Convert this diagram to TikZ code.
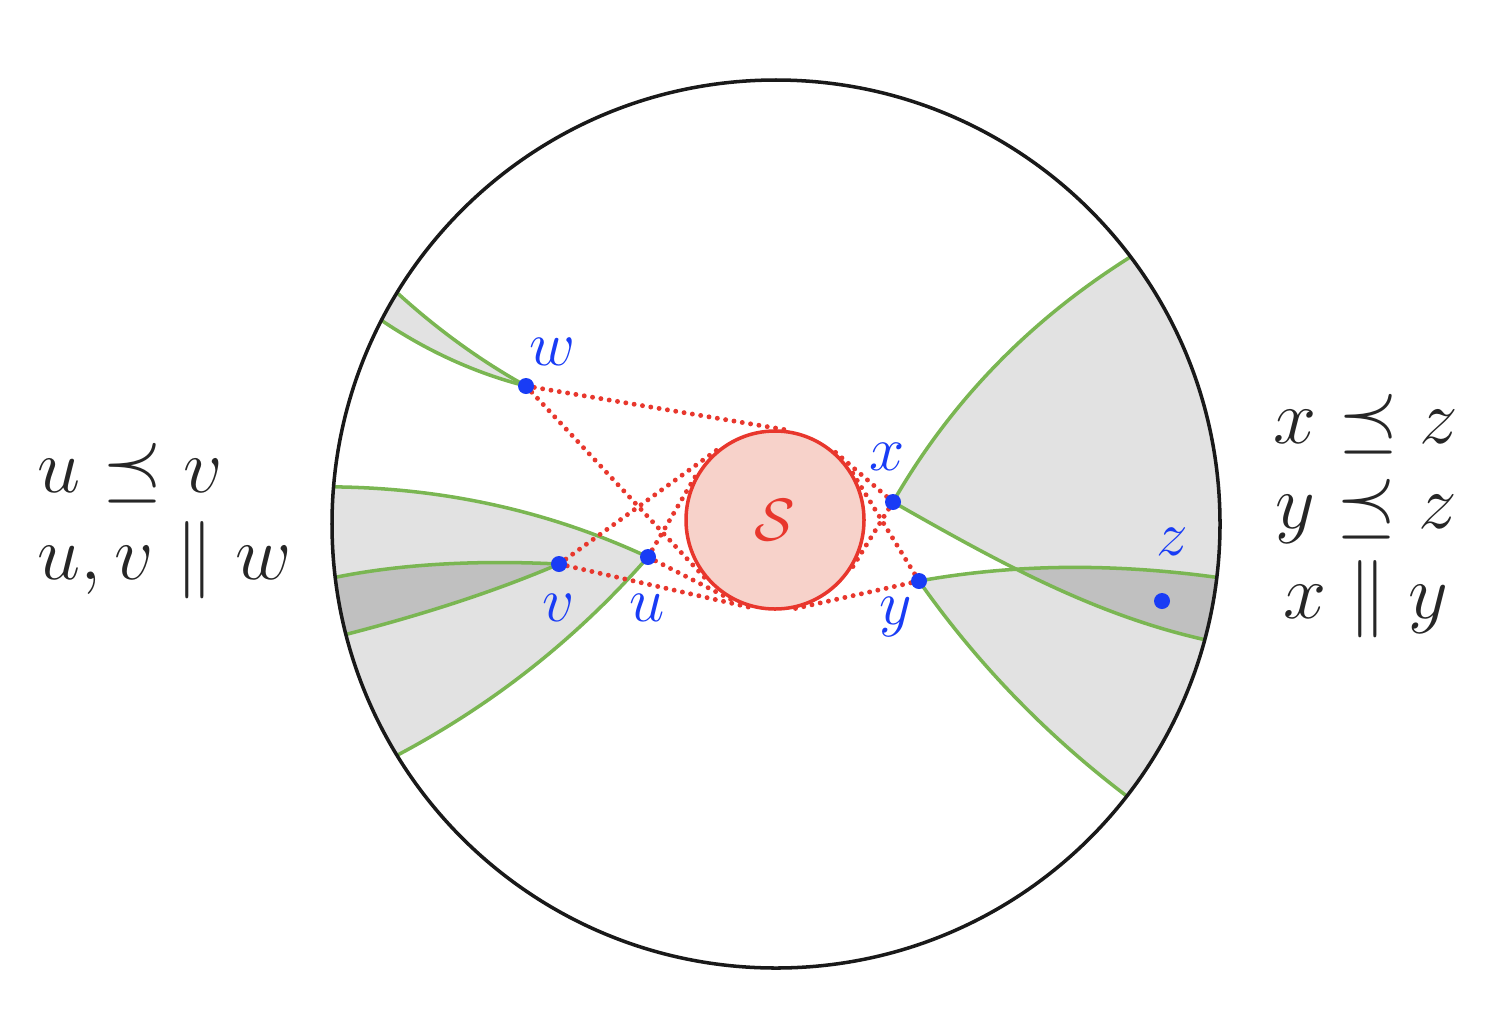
\RequirePackage{fix-cm}
\documentclass[tikz,border=0pt]{standalone}
\usepackage{amsmath,amssymb}
\usepackage{tikz}
\usetikzlibrary{calc}

\definecolor{ptblue}{RGB}{25,60,245}
\definecolor{sred}{RGB}{232,55,45}
\definecolor{spink}{RGB}{247,210,202}
\definecolor{geogreen}{RGB}{122,182,82}
\definecolor{lightcone}{RGB}{226,226,226}
\definecolor{darkcone}{RGB}{192,192,192}

\tikzset{
	rim/.style={line width=1pt, black!90},
	geo/.style={line width=1pt, geogreen},
	tanline/.style={sred, line width=1.4pt, line cap=round, dash pattern=on 0pt off 2.4pt},
	pt/.style={fill=ptblue},
	ptlabel/.style={text=ptblue, font=\fontsize{18}{20}\selectfont, inner sep=0pt},
	rel/.style={text=black!85, font=\fontsize{22}{25}\selectfont, inner sep=0pt}
}

\begin{document}
\begin{tikzpicture}
	\useasboundingbox (0,0) rectangle (14.96,10.32);
	\coordinate (O) at (7.76,5.08);
	% points
	\coordinate (w) at (5.26,6.46);
	\coordinate (u) at (6.48,4.75);
	\coordinate (v) at (5.59,4.68);
	\coordinate (x) at (8.93,5.30);
	\coordinate (y) at (9.19,4.51);
	\coordinate (z) at (11.62,4.31);
	% ends on the rim
	\coordinate (w1) at ($(O)+(148.6:4.44)$);
	\coordinate (w2) at ($(O)+(152.7:4.44)$);
	\coordinate (u1) at ($(O)+(175.2:4.44)$);
	\coordinate (u2) at ($(O)+(211.4:4.44)$);
	\coordinate (v1) at ($(O)+(186.9:4.44)$);
	\coordinate (v2) at ($(O)+(194.4:4.44)$);
	\coordinate (x1) at ($(O)+(37.0:4.44)$);
	\coordinate (x2) at ($(O)+(-15.1:4.44)$);
	\coordinate (y1) at ($(O)+(-6.9:4.44)$);
	\coordinate (y2) at ($(O)+(-37.8:4.44)$);

	% cones
	\fill[lightcone] (w) .. controls (4.81,6.71) and (4.38,7.02) .. (w1) arc[start angle=148.6,end angle=152.7,radius=4.44]
		.. controls (4.27,6.81) and (4.75,6.59) .. (w) -- cycle;
	\fill[lightcone] (u) .. controls (5.49,5.21) and (4.44,5.44) .. (u1) arc[start angle=175.2,end angle=211.4,radius=4.44]
		.. controls (4.94,3.28) and (5.77,3.94) .. (u) -- cycle;
	\fill[darkcone] (v) .. controls (4.76,4.72) and (4.01,4.68) .. (v1) arc[start angle=186.9,end angle=194.4,radius=4.44]
		.. controls (4.25,4.18) and (4.96,4.41) .. (v) -- cycle;
	\fill[lightcone] (x) .. controls (9.51,6.31) and (10.30,7.12) .. (x1) arc[start angle=37,end angle=-15.1,radius=4.44]
		.. controls (10.95,4.17) and (10.00,4.69) .. (x) -- cycle;
	\fill[lightcone] (y) .. controls (10.13,4.68) and (11.12,4.69) .. (y1) arc[start angle=-6.9,end angle=-37.8,radius=4.44]
		.. controls (10.45,2.98) and (9.76,3.70) .. (y) -- cycle;
	\begin{scope}
		\clip (x) .. controls (9.51,6.31) and (10.30,7.12) .. (x1) arc[start angle=37,end angle=-15.1,radius=4.44]
			.. controls (10.95,4.17) and (10.00,4.69) .. (x) -- cycle;
		\fill[darkcone] (y) .. controls (10.13,4.68) and (11.12,4.69) .. (y1) arc[start angle=-6.9,end angle=-37.8,radius=4.44]
			.. controls (10.45,2.98) and (9.76,3.70) .. (y) -- cycle;
	\end{scope}

	% boundaries of the cones
	\draw[geo] (w) .. controls (4.81,6.71) and (4.38,7.02) .. (w1);
	\draw[geo] (w) .. controls (4.75,6.59) and (4.27,6.81) .. (w2);
	\draw[geo] (u) .. controls (5.49,5.21) and (4.44,5.44) .. (u1);
	\draw[geo] (u) .. controls (5.77,3.94) and (4.94,3.28) .. (u2);
	\draw[geo] (v) .. controls (4.76,4.72) and (4.01,4.68) .. (v1);
	\draw[geo] (v) .. controls (4.96,4.41) and (4.25,4.18) .. (v2);
	\draw[geo] (x) .. controls (9.51,6.31) and (10.30,7.12) .. (x1);
	\draw[geo] (x) .. controls (10.00,4.69) and (10.95,4.17) .. (x2);
	\draw[geo] (y) .. controls (10.13,4.68) and (11.12,4.69) .. (y1);
	\draw[geo] (y) .. controls (9.76,3.70) and (10.45,2.98) .. (y2);

	\draw[rim] (O) circle (4.44);

	\node[circle, draw=sred, fill=spink, line width=1pt, minimum size=1.78cm, inner sep=0pt,
		text=sred, font=\fontsize{17}{17}\selectfont] (S) at (7.75,5.12) {$\mathcal{S}$};

	% tangents to S
	\foreach \p in {w,u,v,x,y}
		\foreach \s in {1,2}
			\draw[tanline] (\p) -- (tangent cs:node=S,point={(\p)},solution=\s);

	\foreach \p in {w,u,v,x,y,z}
		\fill[pt] (\p) circle (0.08);

	\node[ptlabel] (wl) at (5.52,6.80) {$w$};
	\node[ptlabel] (ul) at (6.47,4.24) {$u$};
	\node[ptlabel] (vl) at (5.59,4.24) {$v$};
	\node[ptlabel] (xl) at (8.87,5.75) {$x$};
	\node[ptlabel] (yl) at (8.96,4.15) {$y$};
	\node[ptlabel] (zl) at (11.72,4.90) {$z$};

	% relations
	\node[rel, anchor=base west] (uv) at (0.37,5.40) {$u \preceq v$};
	\node[rel, anchor=base west] (uvw) at (0.37,4.53) {$u, v \parallel w$};
	\node[rel, anchor=base] (xz) at (13.66,5.89) {$x \preceq z$};
	\node[rel, anchor=base] (yz) at (13.66,5.04) {$y \preceq z$};
	\node[rel, anchor=base] (xy) at (13.66,4.14) {$x \parallel y$};
\end{tikzpicture}
\end{document}
